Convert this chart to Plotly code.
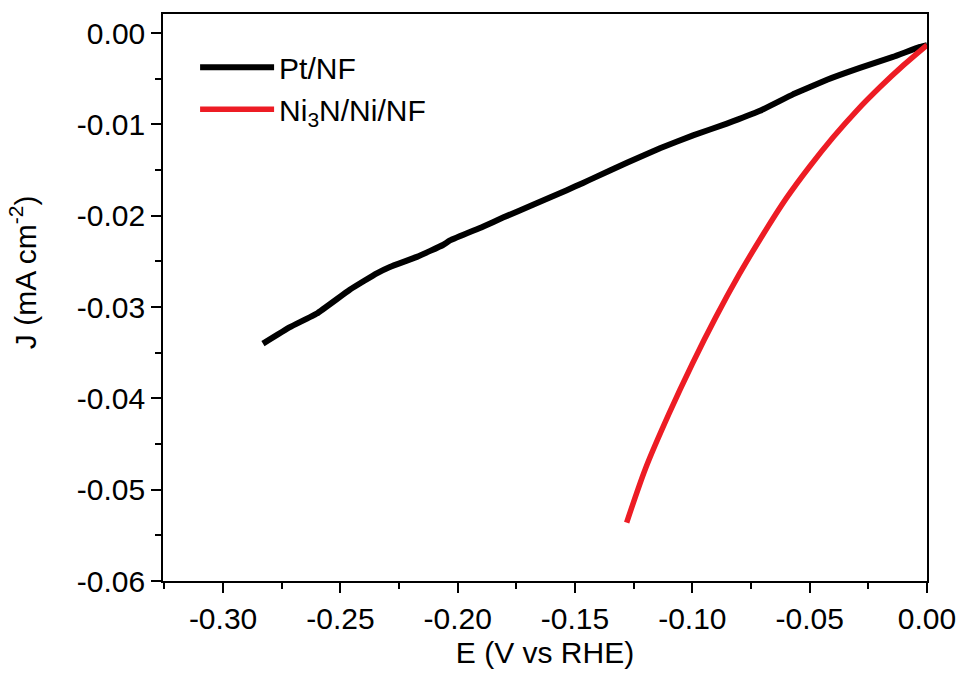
import plotly.graph_objects as go

# Pt/NF polarization curve
pt_E = [-0.2830, -0.2715, -0.2600, -0.2460, -0.2345, -0.2289, -0.2174, -0.2063, -0.2033,
        -0.1893, -0.1807, -0.1679, -0.1535, -0.1466, -0.1424, -0.1279, -0.1138, -0.0997,
        -0.0853, -0.0712, -0.0571, -0.0426, -0.0286, -0.0145, -0.0030, 0.0]
pt_J = [-0.0340, -0.0322, -0.0307, -0.0281, -0.0263, -0.0256, -0.0245, -0.0232, -0.0227,
        -0.0212, -0.0202, -0.0188, -0.0172, -0.0164, -0.0159, -0.0142, -0.0126, -0.0112,
        -0.0099, -0.0085, -0.0067, -0.0051, -0.0038, -0.0026, -0.0015, -0.0013]

# Ni3N/Ni/NF polarization curve
ni_E = [-0.1280, -0.1200, -0.1100, -0.1000, -0.0900, -0.0800, -0.0700, -0.0600, -0.0500,
        -0.0400, -0.0300, -0.0200, -0.0100, 0.0]
ni_J = [-0.0536, -0.0477, -0.0417, -0.0362, -0.0311, -0.0264, -0.0221, -0.0181, -0.0146,
        -0.0114, -0.0085, -0.0059, -0.0035, -0.0013]

x_ticks = [-0.30, -0.25, -0.20, -0.15, -0.10, -0.05, 0.00]
x_labels = ["-0.30", "-0.25", "-0.20", "-0.15", "-0.10", "-0.05", "0.00"]
x_minor = [-0.325, -0.275, -0.225, -0.175, -0.125, -0.075, -0.025]
y_ticks = [0.00, -0.01, -0.02, -0.03, -0.04, -0.05, -0.06]
y_labels = ["0.00", "-0.01", "-0.02", "-0.03", "-0.04", "-0.05", "-0.06"]
y_minor = [-0.005, -0.015, -0.025, -0.035, -0.045, -0.055]

FONT = "Liberation Sans, Arial, sans-serif"
FS = 30

fig = go.Figure()
fig.add_trace(go.Scatter(x=pt_E, y=pt_J, mode="lines", name="Pt/NF",
                         line=dict(color="#000000", width=6, shape="spline", smoothing=0.3)))
fig.add_trace(go.Scatter(x=ni_E, y=ni_J, mode="lines", name="Ni<sub>3</sub>N/Ni/NF",
                         line=dict(color="#ED1C24", width=5.5, shape="spline", smoothing=0.8)))

axis_common = dict(showline=True, linecolor="#000000", linewidth=1.5, mirror=True,
                   showgrid=False, zeroline=False, ticks="outside", ticklen=10,
                   tickwidth=1.5, tickcolor="#000000", automargin=False,
                   tickfont=dict(family=FONT, size=FS, color="#000000"))

fig.update_xaxes(range=[-0.3256, 0.0], tickvals=x_ticks, ticktext=x_labels,
                 minor=dict(ticks="outside", ticklen=6, tickwidth=1.5, tickcolor="#000000",
                            tickvals=x_minor),
                 title=dict(text="E (V vs RHE)", font=dict(family=FONT, size=FS, color="#000000"),
                            standoff=8),
                 **axis_common)
fig.update_yaxes(range=[-0.06, 0.0021], tickvals=y_ticks, ticktext=y_labels,
                 minor=dict(ticks="outside", ticklen=6, tickwidth=1.5, tickcolor="#000000",
                            tickvals=y_minor),
                 **axis_common)

fig.add_annotation(text="J (mA cm<sup>-2</sup>)", textangle=-90, showarrow=False,
                   xref="paper", yref="paper", x=-0.183, y=0.545, xanchor="center", yanchor="middle",
                   font=dict(family=FONT, size=FS, color="#000000"))

fig.update_layout(
    width=961, height=676,
    margin=dict(l=163, r=34, t=14, b=95),
    paper_bgcolor="#FFFFFF", plot_bgcolor="#FFFFFF",
    showlegend=True,
    legend=dict(x=0.042, y=0.952, xanchor="left", yanchor="top",
                bgcolor="rgba(0,0,0,0)", borderwidth=0,
                font=dict(family=FONT, size=FS, color="#000000"),
                itemwidth=74),
)

fig.write_html("out.html")
